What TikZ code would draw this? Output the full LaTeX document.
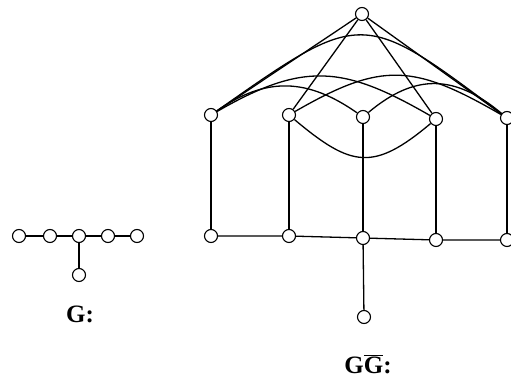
\documentclass[tikz,border=0pt]{standalone}
\usepackage{fontspec}
\setmainfont{Liberation Serif}
\usetikzlibrary{calc}
\begin{document}
\begin{tikzpicture}[x=1pt,y=1pt,
  vtx/.style={circle,draw,fill=white,minimum size=13pt,inner sep=0pt,line width=1.1pt},
  edge/.style={line width=1.3pt},
  lbl/.style={font=\fontsize{25}{25}\selectfont\bfseries,inner sep=0pt}]
\useasboundingbox (0,0) rectangle (511,388);
% graph G
\node[vtx] (g1) at (19,152) {};
\node[vtx] (g2) at (50,152) {};
\node[vtx] (g3) at (79,152) {};
\node[vtx] (g4) at (108,152) {};
\node[vtx] (g5) at (137,152) {};
\node[vtx] (g6) at (79,113) {};
\draw[edge] (g1) -- (g2) (g2) -- (g3) (g3) -- (g4) (g4) -- (g5) (g3) -- (g6);
\node[lbl] (lg) at (80,74) {G:};
% graph G Gbar
\node[vtx] (T) at (362,374) {};
\node[vtx] (M1) at (211,273) {};
\node[vtx] (M2) at (289,273) {};
\node[vtx] (M3) at (363,271) {};
\node[vtx] (M4) at (436,269) {};
\node[vtx] (M5) at (507,270) {};
\node[vtx] (B1) at (211,152) {};
\node[vtx] (B2) at (289,152) {};
\node[vtx] (B3) at (363,150) {};
\node[vtx] (B4) at (436,148) {};
\node[vtx] (B5) at (507,148) {};
\node[vtx] (P) at (364,71) {};
\draw[edge] (B1) -- (B2) (B2) -- (B3) (B3) -- (B4) (B4) -- (B5) (B3) -- (P);
\draw[edge] (M1) -- (B1) (M2) -- (B2) (M3) -- (B3) (M4) -- (B4) (M5) -- (B5);
\draw[edge] (T) -- (M1) (T) -- (M2) (T) -- (M4) (T) -- (M5);
\draw[edge] (M1) .. controls ($(T)+(0,5)$) and ($(T)+(0,5)$) .. (M5);
\draw[edge] (M1) to[out=30,in=150,looseness=1.2] (M4);
\draw[edge] (M2) to[out=30,in=150,looseness=1.25] (M5);
\draw[edge] (M1) to[out=35,in=145,looseness=1.1] (M3);
\draw[edge] (M3) to[out=40,in=140,looseness=1.17] (M5);
\draw[edge] (M2) to[out=-40,in=-140,looseness=1.4] (M4);
\node[lbl] (lgg) at (368,24) {G$\overline{\hbox{\bfseries G}}$:};
\end{tikzpicture}
\end{document}
